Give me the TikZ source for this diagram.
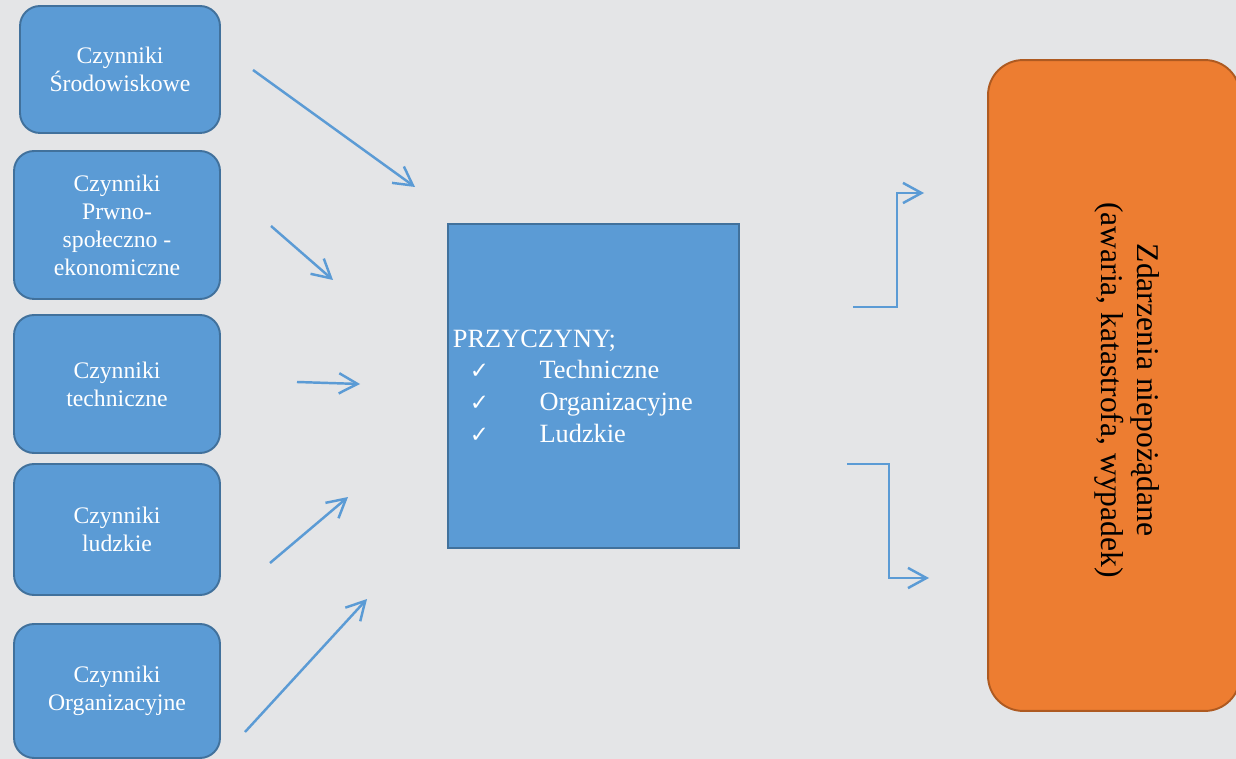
\documentclass[tikz,border=0pt]{standalone}
\usepackage{fontspec}
\setmainfont{Liberation Serif}
\newfontfamily\checkfont{DejaVu Sans}
\usepackage{xcolor}
\usetikzlibrary{arrows.meta,positioning}

\definecolor{bgGrey}{HTML}{E4E5E7}
\definecolor{boxBlue}{HTML}{5B9BD5}
\definecolor{boxBlueLine}{HTML}{41719C}
\definecolor{boxOrange}{HTML}{ED7D31}
\definecolor{boxOrangeLine}{HTML}{AE5A21}

\tikzset{
  factor/.style={draw=boxBlueLine,line width=1.1pt,fill=boxBlue,rounded corners=0.4cm,
    text=white,align=center,font=\fontsize{13.5}{15.9}\selectfont,inner sep=2pt},
  causebox/.style={draw=boxBlueLine,line width=1.1pt,fill=boxBlue,text=white,align=left,
    font=\fontsize{15}{18}\selectfont,inner xsep=2.8pt,
    minimum width=5.82cm,minimum height=6.48cm,text width=5.82cm-5.6pt},
  eventbox/.style={draw=boxOrangeLine,line width=1.1pt,fill=boxOrange,rounded corners=0.7cm},
  flow/.style={draw=boxBlue,line width=1.4pt,-{Straight Barb[length=10.5pt,width=11.5pt]}},
}
\newcommand{\chk}{{\checkfont\fontsize{13}{13}\selectfont ✓}}
\newcommand{\chkitem}[1]{\hspace*{9.6pt}\makebox[39.7pt][l]{\chk}#1}

\begin{document}
\begin{tikzpicture}[x=0.02cm,y=-0.02cm]
% tlo
\fill[bgGrey] (0,0) rectangle (1236,759);
\useasboundingbox (0,0) rectangle (1236,759);

% czynniki
\node[factor,minimum width=4cm,minimum height=2.54cm] (srod) at (120,69.5) {Czynniki\\Środowiskowe};
\node[factor,minimum width=4.12cm,minimum height=2.96cm] (prawno) at (117,225) {Czynniki\\Prwno-\\społeczno -\\ekonomiczne};
\node[factor,minimum width=4.12cm,minimum height=2.76cm] (tech) at (117,384) {Czynniki\\techniczne};
\node[factor,minimum width=4.12cm,minimum height=2.62cm] (ludz) at (117,529.5) {Czynniki\\ludzkie};
\node[factor,minimum width=4.12cm,minimum height=2.68cm] (org) at (117,691) {Czynniki\\Organizacyjne};

% przyczyny
\node[causebox] (przyczyny) at (593.5,386) {PRZYCZYNY;\\
  \chkitem{Techniczne}\\
  \chkitem{Organizacyjne}\\
  \chkitem{Ludzkie}};

% zdarzenia
\node[eventbox,minimum width=5.04cm,minimum height=13.02cm] (zdarzenia) at (1114,385.5) {};
\node[rotate=-90,align=center,font=\fontsize{18}{21}\selectfont] (zdtekst) at (1127,390)
  {Zdarzenia niepożądane\\(awaria, katastrofa, wypadek)};

% strzalki
\coordinate (s1) at (253,70);  \coordinate (e1) at (415,187);
\coordinate (s2) at (271,226); \coordinate (e2) at (333,280);
\coordinate (s3) at (297,382); \coordinate (e3) at (360,384);
\coordinate (s4) at (270,563); \coordinate (e4) at (348,497);
\coordinate (s5) at (245,732); \coordinate (e5) at (367,599);
\foreach \i in {1,...,5}
  \draw[flow] (s\i) -- (e\i);

\coordinate (r1s) at (853,307); \coordinate (r1m) at (897,193); \coordinate (r1e) at (924,193);
\coordinate (r2s) at (847,464); \coordinate (r2m) at (889,578); \coordinate (r2e) at (929,578);
\draw[flow] (r1s) -| (r1m) -- (r1e);
\draw[flow] (r2s) -| (r2m) -- (r2e);
\end{tikzpicture}
\end{document}
